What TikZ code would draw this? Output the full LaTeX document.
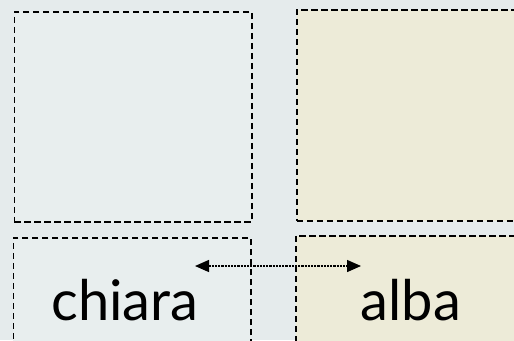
\documentclass[tikz,border=0pt]{standalone}
\usepackage{fontspec}
\setmainfont{Lato}
\usetikzlibrary{arrows.meta}
\definecolor{bgcol}{HTML}{E5EBEC}
\definecolor{leftfill}{HTML}{E8EEEE}
\definecolor{rightfill}{HTML}{EDEBD8}
\tikzset{
  box/.style={draw=black, line width=1.9pt, dash pattern=on 6.5pt off 3.5pt, inner sep=0pt, anchor=north west},
  lbl/.style={font=\fontsize{56}{60}\selectfont, text=black, anchor=base, inner sep=0pt},
  link/.style={line width=1.4pt, dash pattern=on 2.2pt off 1pt, {Triangle[length=14pt,width=12pt]}-{Triangle[length=14pt,width=12pt]}}
}
\begin{document}
\begin{tikzpicture}[x=1pt,y=-1pt]
\useasboundingbox (0,0) rectangle (514,340);
\clip (0,0) rectangle (514,340);
\fill[bgcol] (0,0) rectangle (514,340);
\node[box, fill=leftfill, minimum width=237.5pt, minimum height=210pt] (tl) at (13.5,11) {};
\node[box, fill=rightfill, minimum width=240pt, minimum height=211pt] (tr) at (296,9) {};
\node[box, fill=leftfill, minimum width=237.5pt, minimum height=130pt] (bl) at (12.5,237) {};
\node[box, fill=rightfill, minimum width=240pt, minimum height=130pt] (br) at (295,235) {};
\node[lbl] (chiara) at (125,320) {chiara};
\node[lbl] (alba) at (411,320) {alba};
\coordinate (la) at (195,266);
\coordinate (ra) at (361,266);
\draw[link] (la) -- (ra);
\end{tikzpicture}
\end{document}
